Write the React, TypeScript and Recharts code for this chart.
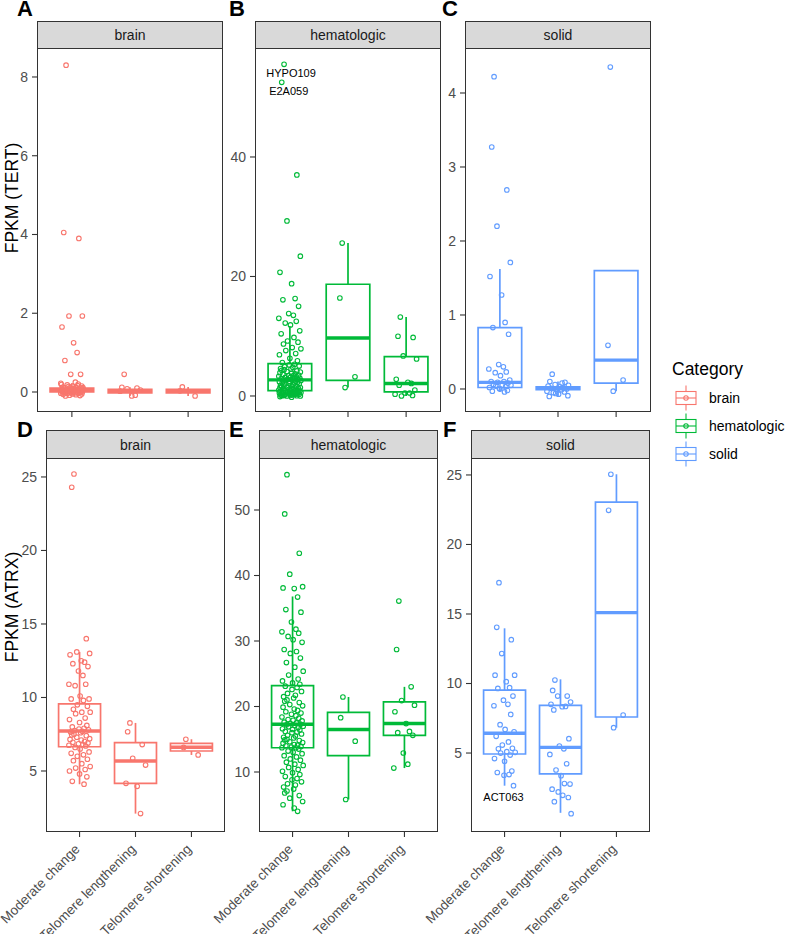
import React from "react";
import {
  ComposedChart,
  Scatter,
  XAxis,
  YAxis,
  ReferenceArea,
  ReferenceLine,
  ReferenceDot,
  Label,
} from "recharts";

// ---------- categories / colours ----------
const CATEGORIES = ["Moderate change", "Telomere lengthening", "Telomere shortening"];
const CANCER_TYPES = ["brain", "hematologic", "solid"];
const COLORS = ["#F8766D", "#00BA38", "#619CFF"];

// horizontal jitter offsets (category units), cycled over points
const JITTER = [-0.10, -0.14, 0.12, -0.05, 0.18, -0.17, 0.03, 0.09, -0.12, 0.15, -0.02, 0.06, -0.19, 0.11, -0.08, 0.01, 0.17, -0.15, 0.07, -0.04, 0.14, -0.11, 0.04, 0.19, -0.07, 0.10, -0.18, 0.0, 0.13, -0.13, 0.08, -0.01, 0.16, -0.09, 0.05, -0.16, 0.02];

// ---------- TERT ----------
const TERT_BRAIN_MODERATE = [8.3, 4.05, 3.9, 1.93, 1.93, 1.65, 1.25, 1.0, 0.8, 0.45, 0.45, 0.25, 0.22, 0.2, 0.18, 0.15, 0.15, 0.12, 0.12, 0.1, 0.1, 0.1, 0.08, 0.08, 0.07, 0.06, 0.06, 0.05, 0.05, 0.05, 0.04, 0.04, 0.03, 0.03, 0.03, 0.02, 0.02, 0.02, 0.01, 0.01, 0.01, 0.0, 0.0, 0.0, 0.0, -0.01, -0.01, -0.02, -0.02, -0.03, -0.03, -0.04, -0.05, -0.05, -0.06, -0.07, -0.08, -0.09, -0.1, 0.09, 0.11, 0.13, 0.16, 0.19, 0.0, 0.02, -0.02, 0.05];
const TERT_BRAIN_LENGTHENING = [0.45, 0.12, 0.1, 0.08, 0.05, 0.02, -0.1, -0.08];
const TERT_BRAIN_SHORTENING = [0.13, 0.03, -0.1];
// [lower whisker, q1, median, q3, upper whisker]
const TERT_BRAIN_BOX = [[-0.1, 0.0, 0.04, 0.1, 0.22], [-0.1, -0.02, 0.02, 0.07, 0.12], [-0.1, -0.02, 0.03, 0.07, 0.13]];
const TERT_BRAIN_TICKS = [0, 2, 4, 6, 8];

const TERT_HEME_MODERATE = [55.5, 52.5, 37, 29.3, 23.4, 20.7, 18.8, 16.3, 16.1, 15, 13.8, 13.5, 13, 12.5, 12.2, 11.9, 10.9, 10.4, 9.8, 9.2, 9, 8.7, 8.1, 7.9, 7.6, 7.1, 6.9, 6.3, 5.9, 5.6,
  5.3, 5.2, 5.0, 4.9, 4.8, 4.6, 4.5, 4.4, 4.3, 4.2, 4.1, 4.0, 3.9, 3.8, 3.7, 3.6, 3.5, 3.4, 3.4, 3.3, 3.2, 3.1, 3.1, 3.0, 2.9, 2.9, 2.8, 2.8, 2.7, 2.7,
  2.6, 2.6, 2.5, 2.4, 2.4, 2.3, 2.2, 2.2, 2.1, 2.0, 2.0, 1.9, 1.8, 1.8, 1.7, 1.6, 1.6, 1.5, 1.4, 1.4, 1.3, 1.3, 1.2, 1.2, 1.1, 1.1, 1.0, 1.0, 0.95, 0.9,
  0.85, 0.8, 0.8, 0.75, 0.7, 0.65, 0.6, 0.6, 0.55, 0.5, 0.5, 0.45, 0.4, 0.4, 0.35, 0.3, 0.3, 0.25, 0.2, 0.2, 0.15, 0.1, 0.1, 0.05, 0.0, 0.0, -0.1, -0.2, 0.3, 0.1];
const TERT_HEME_LENGTHENING = [25.6, 16.4, 3.2, 1.4];
const TERT_HEME_SHORTENING = [13.2, 10.0, 9.8, 6.7, 6.2, 2.8, 2.3, 2.1, 1.8, 1.0, 0.5, 0.5, 0.3, 0.1, 0.0];
const TERT_HEME_BOX = [[0.0, 0.9, 2.7, 5.4, 11.7], [1.4, 2.6, 9.7, 18.7, 25.6], [0.0, 0.7, 2.1, 6.6, 13.2]];
const TERT_HEME_TICKS = [0, 20, 40];
const TERT_HEME_LABELS = [
  { text: "HYPO109", group: 0, index: 0 },
  { text: "E2A059", group: 0, index: 1 },
];

const TERT_SOLID_MODERATE = [4.22, 3.27, 2.69, 2.2, 1.71, 1.52, 1.27, 0.9, 0.83, 0.74, 0.33, 0.3, 0.27, 0.23, 0.22, 0.18, 0.12, 0.1, 0.1, 0.09, 0.08, 0.06, 0.05, 0.05, 0.04, 0.03, 0.02, 0.0, -0.02, -0.03, -0.04, 0.01];
const TERT_SOLID_LENGTHENING = [0.2, 0.1, 0.09, 0.06, 0.05, 0.04, 0.03, 0.02, 0.01, 0.0, 0.0, -0.01, -0.03, -0.04, -0.05, -0.07, -0.09, -0.1, 0.08, -0.06];
const TERT_SOLID_SHORTENING = [4.35, 0.59, 0.12, -0.03];
const TERT_SOLID_BOX = [[-0.04, 0.02, 0.09, 0.83, 1.62], [-0.1, -0.01, 0.01, 0.03, 0.1], [-0.03, 0.08, 0.39, 1.6, 1.6]];
const TERT_SOLID_TICKS = [0, 1, 2, 3, 4];

// ---------- ATRX ----------
const ATRX_BRAIN_MODERATE = [25.2, 24.3, 14.0, 13.1, 13.0, 12.9, 12.5, 12.4, 12.3, 12.1, 11.8, 11.5, 10.9, 10.9, 10.8, 10.1, 9.9,
  9.9, 9.8, 9.5, 9.4, 9.2, 9.0, 9.0, 8.9, 8.6, 8.5, 8.3, 8.1, 8.0, 7.9, 7.85, 7.8, 7.75,
  7.7, 7.65, 7.6, 7.5, 7.45, 7.4, 7.3, 7.2, 7.15, 7.1, 7.0, 6.95, 6.9, 6.85, 6.8, 6.75, 6.7,
  6.6, 6.5, 6.3, 6.2, 6.1, 6.0, 5.8, 5.7, 5.5, 5.3, 5.2, 5.1, 5.0, 4.8, 4.6, 4.3, 4.1];
const ATRX_BRAIN_LENGTHENING = [8.27, 7.67, 6.8, 5.86, 5.4, 4.16, 3.96, 2.1];
const ATRX_BRAIN_SHORTENING = [7.16, 6.6, 6.09];
const ATRX_BRAIN_BOX = [[4.1, 6.65, 7.72, 9.56, 13.1], [2.1, 4.16, 5.68, 6.93, 8.27], [6.09, 6.36, 6.61, 6.88, 7.16]];
const ATRX_BRAIN_TICKS = [5, 10, 15, 20, 25];

const ATRX_HEME_MODERATE = [55.4, 49.4, 43.4, 40.2, 38.3, 38.1, 38.0, 36.7, 34.8, 34.4, 32.9, 31.8, 31.4, 31.2, 30.7, 30.2, 29.8, 28.7, 28.4, 28.1, 27.4, 26.7, 26.0, 25.4, 24.8, 24.2, 23.9, 23.6, 23.4,
  23.1, 22.9, 22.6, 22.3, 22.0, 21.7, 21.5, 21.3, 21.0, 20.8, 20.6, 20.3, 20.1, 19.9, 19.6, 19.4, 19.2, 19.0, 18.8, 18.6, 18.4, 18.2, 18.0, 17.9, 17.8, 17.6, 17.5, 17.4, 17.3,
  17.2, 17.1, 17.0, 16.9, 16.8, 16.6, 16.5, 16.4, 16.2, 16.1, 16.0, 15.8, 15.6, 15.5, 15.3, 15.2, 15.0, 14.9, 14.8, 14.6, 14.5, 14.4, 14.2, 14.1, 14.0, 13.9, 13.8, 13.7, 13.7,
  13.5, 13.2, 13.0, 12.8, 12.5, 12.3, 12.0, 11.8, 11.5, 11.2, 11.0, 10.7, 10.4, 10.1, 9.9, 9.6, 9.3, 9.0, 8.8, 8.5, 8.2, 8.0, 7.7, 7.4, 7.1, 6.8, 6.4, 6.0, 5.5, 5.0, 4.5, 4.0];
const ATRX_HEME_LENGTHENING = [21.45, 18.3, 14.7, 5.8];
const ATRX_HEME_SHORTENING = [36.1, 28.7, 23.0, 20.9, 20.2, 19.2, 17.4, 16.2, 16.0, 15.6, 12.9, 11.2, 10.6];
const ATRX_HEME_BOX = [[4.0, 13.7, 17.3, 23.2, 36.8], [5.8, 12.5, 16.5, 19.1, 21.45], [10.6, 15.6, 17.4, 20.7, 23.0]];
const ATRX_HEME_TICKS = [10, 20, 30, 40, 50];

const ATRX_SOLID_MODERATE = [17.25, 14.04, 13.15, 12.15, 10.6, 10.6, 10.13, 9.7, 9.65, 9.1, 8.8, 8.5, 8.4, 7.78, 7.04, 6.7, 6.53, 6.2, 5.8, 5.57, 5.34, 5.3, 5.1, 5.05, 5.0, 4.85, 4.6, 4.4, 3.7, 3.6, 3.45, 3.4, 2.65];
const ATRX_SOLID_LENGTHENING = [10.25, 9.5, 9.1, 9.1, 8.67, 8.5, 8.33, 8.35, 8.1, 6.03, 5.5, 5.3, 4.9, 4.23, 3.78, 3.37, 2.77, 2.4, 2.8, 2.2, 1.8, 1.5, 1.96, 0.64];
const ATRX_SOLID_SHORTENING = [25.05, 22.46, 7.73, 6.82];
const ATRX_SOLID_BOX = [[2.65, 4.93, 6.42, 9.53, 13.97], [0.7, 3.5, 5.41, 8.43, 10.3], [6.82, 7.59, 15.1, 23.04, 25.05]];
const ATRX_SOLID_TICKS = [5, 10, 15, 20, 25];
const ATRX_SOLID_LABELS = [{ text: "ACT063", group: 0, index: 32 }];

// ---------- layout (pixels) ----------
const FONT = "'Liberation Sans', Arial, Helvetica, sans-serif";
const BOX_HALF = 0.375;

type Layout = { left: number; top: number; width: number; height: number; stripTop: number };

const PANELS = [
  { key: "A", layout: { left: 37, top: 48, width: 186, height: 364, stripTop: 21 }, domain: [-0.508, 8.736], ticks: TERT_BRAIN_TICKS, groups: [TERT_BRAIN_MODERATE, TERT_BRAIN_LENGTHENING, TERT_BRAIN_SHORTENING], boxes: TERT_BRAIN_BOX, type: 0, bottom: false, labels: [], labelOffset: [0, 0] },
  { key: "B", layout: { left: 255, top: 48, width: 186, height: 364, stripTop: 21 }, domain: [-2.68, 58.24], ticks: TERT_HEME_TICKS, groups: [TERT_HEME_MODERATE, TERT_HEME_LENGTHENING, TERT_HEME_SHORTENING], boxes: TERT_HEME_BOX, type: 1, bottom: false, labels: TERT_HEME_LABELS, labelOffset: [7, 13] },
  { key: "C", layout: { left: 465, top: 48, width: 186, height: 364, stripTop: 21 }, domain: [-0.311, 4.608], ticks: TERT_SOLID_TICKS, groups: [TERT_SOLID_MODERATE, TERT_SOLID_LENGTHENING, TERT_SOLID_SHORTENING], boxes: TERT_SOLID_BOX, type: 2, bottom: false, labels: [], labelOffset: [0, 0] },
  { key: "D", layout: { left: 46, top: 458, width: 179, height: 374, stripTop: 430 }, domain: [0.85, 26.29], ticks: ATRX_BRAIN_TICKS, groups: [ATRX_BRAIN_MODERATE, ATRX_BRAIN_LENGTHENING, ATRX_BRAIN_SHORTENING], boxes: ATRX_BRAIN_BOX, type: 0, bottom: true, labels: [], labelOffset: [0, 0] },
  { key: "E", layout: { left: 259, top: 458, width: 179, height: 374, stripTop: 430 }, domain: [0.84, 57.94], ticks: ATRX_HEME_TICKS, groups: [ATRX_HEME_MODERATE, ATRX_HEME_LENGTHENING, ATRX_HEME_SHORTENING], boxes: ATRX_HEME_BOX, type: 1, bottom: true, labels: [], labelOffset: [0, 0] },
  { key: "F", layout: { left: 471, top: 458, width: 179, height: 374, stripTop: 430 }, domain: [-0.68, 26.22], ticks: ATRX_SOLID_TICKS, groups: [ATRX_SOLID_MODERATE, ATRX_SOLID_LENGTHENING, ATRX_SOLID_SHORTENING], boxes: ATRX_SOLID_BOX, type: 2, bottom: true, labels: ATRX_SOLID_LABELS, labelOffset: [-10, 15] },
];

const toPoints = (values: number[], cat: number) =>
  values.map((v, i) => ({ x: cat + JITTER[i % JITTER.length], y: v }));

const RotatedTick = (props: any) => {
  const { x, y, payload } = props;
  const ax = x + 1;
  const ay = y + 11;
  return (
    <text
      x={ax}
      y={ay}
      transform={`rotate(-45 ${ax} ${ay})`}
      textAnchor="end"
      fontSize={13.5}
      fill="#4D4D4D"
      fontFamily={FONT}
    >
      {CATEGORIES[payload.value - 1]}
    </text>
  );
};

const EmptyTick = () => <g />;

function Panel({ p }: { p: any }) {
  const L: Layout = p.layout;
  const YW = 36;
  const ML = p.bottom ? 90 : 0;
  const XH = p.bottom ? 130 : 12;
  const color = COLORS[p.type];
  const chartW = L.width + YW + ML + 4;
  const chartH = L.height + XH;
  return (
    <>
      <div
        style={{
          position: "absolute",
          left: L.left,
          top: L.stripTop,
          width: L.width,
          height: L.top - L.stripTop + 1,
          background: "#D9D9D9",
          border: "1.3px solid #333333",
          boxSizing: "border-box",
          display: "flex",
          alignItems: "center",
          justifyContent: "center",
          fontSize: 14,
          color: "#1A1A1A",
          fontFamily: FONT,
        }}
      >
        {CANCER_TYPES[p.type]}
      </div>
      <div style={{ position: "absolute", left: L.left - YW - ML, top: L.top }}>
        <ComposedChart width={chartW} height={chartH} margin={{ top: 0, right: 4, bottom: 0, left: ML }}>
          <XAxis
            type="number"
            dataKey="x"
            domain={[0.4, 3.6]}
            ticks={[1, 2, 3]}
            interval={0}
            allowDataOverflow
            axisLine={false}
            tickLine={{ stroke: "#333333", strokeWidth: 1.1 }}
            tickSize={5}
            tickMargin={2}
            height={XH}
            tick={p.bottom ? <RotatedTick /> : <EmptyTick />}
          />
          <YAxis
            type="number"
            dataKey="y"
            domain={p.domain}
            ticks={p.ticks}
            interval={0}
            allowDataOverflow
            width={YW}
            axisLine={false}
            tickLine={{ stroke: "#333333", strokeWidth: 1.1 }}
            tickSize={5}
            tickMargin={4}
            tick={{ fontSize: 14, fill: "#4D4D4D", fontFamily: FONT }}
          />
          {p.boxes.map((b: number[], i: number) => {
            const c = i + 1;
            return (
              <React.Fragment key={`box-${i}`}>
                <ReferenceLine
                  segment={[{ x: c, y: b[0] }, { x: c, y: b[1] }]}
                  stroke={color}
                  strokeWidth={1.7}
                />
                <ReferenceLine
                  segment={[{ x: c, y: b[3] }, { x: c, y: b[4] }]}
                  stroke={color}
                  strokeWidth={1.7}
                />
                <ReferenceArea
                  x1={c - BOX_HALF}
                  x2={c + BOX_HALF}
                  y1={b[1]}
                  y2={b[3]}
                  stroke={color}
                  strokeWidth={1.7}
                  fill="none"
                  fillOpacity={0}
                />
                <ReferenceLine
                  segment={[{ x: c - BOX_HALF, y: b[2] }, { x: c + BOX_HALF, y: b[2] }]}
                  stroke={color}
                  strokeWidth={3.4}
                />
              </React.Fragment>
            );
          })}
          {p.groups.map((g: number[], i: number) => (
            <Scatter
              key={`pts-${i}`}
              data={toPoints(g, i + 1)}
              isAnimationActive={false}
              shape={(sp: any) => (
                <circle cx={sp.cx} cy={sp.cy} r={2.3} fill="none" stroke={color} strokeWidth={1.1} />
              )}
            />
          ))}
          {p.labels.map((lb: any) => {
            const v = p.groups[lb.group][lb.index];
            const x = lb.group + 1 + JITTER[lb.index % JITTER.length];
            return (
              <ReferenceDot
                key={lb.text}
                x={x}
                y={v}
                r={0.5}
                fill="none"
                stroke="none"
                label={
                  <Label
                    content={(lp: any) => {
                      const vb = lp.viewBox || {};
                      const cx = (vb.x ?? 0) + (vb.width ?? 0) / 2;
                      const cy = (vb.y ?? 0) + (vb.height ?? 0) / 2;
                      return (
                        <text
                          x={cx + p.labelOffset[0]}
                          y={cy + p.labelOffset[1]}
                          textAnchor="middle"
                          fontSize={11}
                          fill="#000000"
                          fontFamily={FONT}
                        >
                          {lb.text}
                        </text>
                      );
                    }}
                  />
                }
              />
            );
          })}
        </ComposedChart>
      </div>
      <div
        style={{
          position: "absolute",
          left: L.left,
          top: L.top,
          width: L.width,
          height: L.height,
          border: "1.3px solid #333333",
          boxSizing: "border-box",
          pointerEvents: "none",
        }}
      />
    </>
  );
}

const PANEL_LETTERS = [
  { text: "A", x: 17, y: 16 },
  { text: "B", x: 229, y: 16 },
  { text: "C", x: 442, y: 16 },
  { text: "D", x: 17, y: 437 },
  { text: "E", x: 229, y: 437 },
  { text: "F", x: 443, y: 437 },
];

export default function App() {
  return (
    <div
      style={{
        position: "absolute",
        left: 0,
        top: 0,
        width: 788,
        height: 934,
        background: "#FFFFFF",
        overflow: "hidden",
        fontFamily: FONT,
      }}
    >
      {PANELS.map((p) => (
        <Panel key={p.key} p={p} />
      ))}
      <svg
        width={788}
        height={934}
        style={{ position: "absolute", left: 0, top: 0, pointerEvents: "none" }}
      >
        {PANEL_LETTERS.map((l) => (
          <text key={l.text} x={l.x} y={l.y} fontSize={22} fontWeight="bold" fill="#000" fontFamily={FONT}>
            {l.text}
          </text>
        ))}
        <text
          x={18}
          y={198}
          transform="rotate(-90 18 198)"
          textAnchor="middle"
          fontSize={17.5}
          fill="#000"
          fontFamily={FONT}
        >
          FPKM (TERT)
        </text>
        <text
          x={18}
          y={607}
          transform="rotate(-90 18 607)"
          textAnchor="middle"
          fontSize={17.5}
          fill="#000"
          fontFamily={FONT}
        >
          FPKM (ATRX)
        </text>
        <text x={672} y={375} fontSize={17.5} fill="#000" fontFamily={FONT}>
          Category
        </text>
        {CANCER_TYPES.map((t, i) => {
          const cy = 398 + i * 28;
          const c = COLORS[i];
          return (
            <g key={t}>
              <line x1={686} x2={686} y1={cy - 12.5} y2={cy + 12.5} stroke={c} strokeWidth={1.1} />
              <rect x={676} y={cy - 6.5} width={20} height={13} fill="#FFFFFF" stroke={c} strokeWidth={1.1} />
              <line x1={676} x2={696} y1={cy} y2={cy} stroke={c} strokeWidth={1.1} />
              <circle cx={686} cy={cy} r={2.2} fill="none" stroke={c} strokeWidth={1.1} />
              <text x={709} y={cy + 5} fontSize={14} fill="#000" fontFamily={FONT}>
                {t}
              </text>
            </g>
          );
        })}
      </svg>
    </div>
  );
}
